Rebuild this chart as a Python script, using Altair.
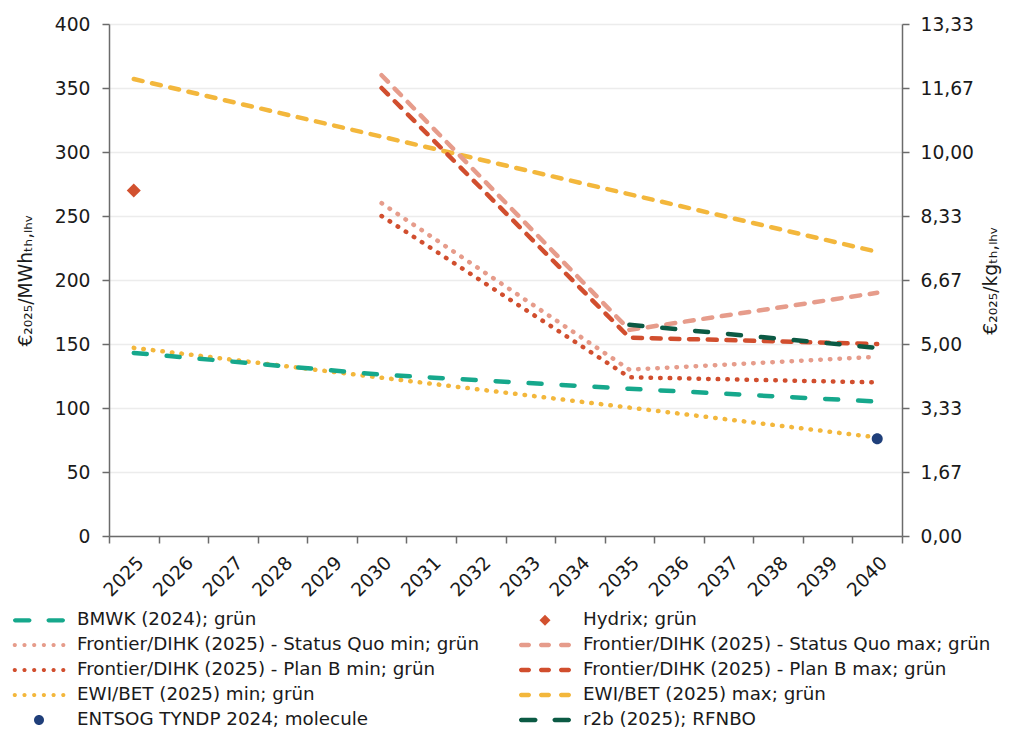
import altair as alt
import pandas as pd

# ---------------- data ----------------
years = [str(y) for y in range(2025, 2041)]
y_ticks = [0, 50, 100, 150, 200, 250, 300, 350, 400]

names = [
    "BMWK (2024); grün",
    "Hydrix; grün",
    "Frontier/DIHK (2025) - Status Quo min; grün",
    "Frontier/DIHK (2025) - Status Quo max; grün",
    "Frontier/DIHK (2025) - Plan B min; grün",
    "Frontier/DIHK (2025) - Plan B max; grün",
    "EWI/BET (2025) min; grün",
    "EWI/BET (2025) max; grün",
    "ENTSOG TYNDP 2024; molecule",
    "r2b (2025); RFNBO",
]
colors = ["#16a88c", "#d2512f", "#e69c8b", "#e69c8b", "#d14e2e", "#d14e2e",
          "#f3b73c", "#f3b73c", "#1f3f7a", "#0b5a44"]

bmwk_x = ["2025", "2030", "2035", "2040"]
bmwk_y = [143, 126, 115, 105]
fr_x = ["2030", "2035", "2040"]
sq_min_y = [260, 130, 140]
sq_max_y = [360, 161, 190]
pb_min_y = [250, 124, 120]
pb_max_y = [350, 155, 150]
ewi_x = ["2025", "2040"]
ewi_min_y = [147, 77]
ewi_max_y = [357, 222]
r2b_x = ["2035", "2040"]
r2b_y = [165, 147]
hydrix_x = ["2025"]
hydrix_y = [270]
entsog_x = ["2040"]
entsog_y = [76]

# ---------------- tables ----------------
line_series = [
    (names[2], fr_x, sq_min_y),
    (names[4], fr_x, pb_min_y),
    (names[6], ewi_x, ewi_min_y),
    (names[0], bmwk_x, bmwk_y),
    (names[7], ewi_x, ewi_max_y),
    (names[3], fr_x, sq_max_y),
    (names[5], fr_x, pb_max_y),
    (names[9], r2b_x, r2b_y),
]
rows = []
for n, xs, ys in line_series:
    for xv, yv in zip(xs, ys):
        rows.append({"series": n, "year": xv, "value": yv})
line_df = pd.DataFrame(rows)
hyd_df = pd.DataFrame({"series": names[1], "year": hydrix_x, "value": hydrix_y})
ent_df = pd.DataFrame({"series": names[8], "year": entsog_x, "value": entsog_y})

line_names = [n for n, _, _ in line_series]
line_colors = [colors[names.index(n)] for n in line_names]
LONG = [13, 20]
MED = [9, 9.7]
DOT = [0.5, 9.1]
dash_of = {names[0]: LONG, names[2]: DOT, names[3]: MED, names[4]: DOT, names[5]: MED,
           names[6]: DOT, names[7]: MED, names[9]: LONG}
line_dashes = [dash_of[n] for n in line_names]


# legend symbol paths (units of 10 px at symbolSize 400)
def dash_path(x0, x1, h=0.22):
    return (f"M{x0+h},{-h}H{x1-h}A{h},{h} 0 0 1 {x1-h},{h}"
            f"H{x0+h}A{h},{h} 0 0 1 {x0+h},{-h}Z")


def dot_path(cx, r=0.21):
    return f"M{cx-r},0A{r},{r} 0 1,0 {cx+r},0A{r},{r} 0 1,0 {cx-r},0Z"


long_sym = dash_path(-2.6, -0.75) + dash_path(0.75, 2.6)
med_sym = dash_path(-2.6, -1.4) + dash_path(-0.6, 0.6) + dash_path(1.4, 2.6)
dot_sym = "".join(dot_path(-2.42 + 0.97 * i) for i in range(6))
diamond_sym = "M0,-0.55L0.55,0L0,0.55L-0.55,0Z"
circle_sym = "M-0.5,0A0.5,0.5 0 1,0 0.5,0A0.5,0.5 0 1,0 -0.5,0Z"
shapes = [long_sym, diamond_sym, dot_sym, med_sym, dot_sym, med_sym, dot_sym, med_sym,
          circle_sym, long_sym]

# legend is filled column by column: left column first, then right column
legend_order = [0, 2, 4, 6, 8, 1, 3, 5, 7, 9]
leg_names = [names[i] for i in legend_order]
leg_colors = [colors[i] for i in legend_order]
leg_shapes = [shapes[i] for i in legend_order]

FONT = "DejaVu Sans"
FS = 18.7
LFS = 18.3
TXT = "#1a1a1a"
AX = "#6b6b6b"

xscale = alt.Scale(type="band", domain=years, paddingInner=0, paddingOuter=0)
yscale = alt.Scale(domain=[0, 400], nice=False, zero=True)

xaxis = alt.Axis(title=None, tickBand="extent", labelAngle=-45, labelFontSize=FS,
                 labelColor=TXT, labelFont=FONT, domainColor=AX, domainWidth=1.5,
                 tickColor=AX, tickWidth=1.5, tickSize=7, labelPadding=10, grid=False)
left_axis = alt.Axis(values=y_ticks, title="€₂₀₂₅/MWhₜₕ,ₗₕᵥ", titleFontSize=FS,
                     titleFontWeight="normal", titleColor=TXT, titleFont=FONT,
                     titlePadding=19, labelFontSize=FS, labelColor=TXT, labelFont=FONT,
                     domainColor=AX, domainWidth=1.5, tickColor=AX, tickWidth=1.5,
                     tickSize=7, labelPadding=12, grid=True, gridColor="#ececec",
                     gridWidth=1.5)
right_axis = alt.Axis(orient="right", values=y_ticks,
                      labelExpr="replace(format(datum.value / 30, '.2f'), '.', ',')",
                      title="€₂₀₂₅/kgₜₕ,ₗₕᵥ", titleAngle=270, titleBaseline="top",
                      titleFontSize=FS, titleFontWeight="normal", titleColor=TXT,
                      titleFont=FONT, titlePadding=8, labelFontSize=FS, labelColor=TXT,
                      labelFont=FONT, domainColor=AX, domainWidth=1.5, tickColor=AX,
                      tickWidth=1.5, tickSize=7, labelPadding=11, grid=False)

legend_def = alt.Legend(orient="none", legendX=-80, legendY=586, columns=2,
                        columnPadding=39, rowPadding=6, symbolSize=400,
                        symbolStrokeWidth=0, labelOffset=28, labelFontSize=LFS,
                        labelFont=FONT, labelColor=TXT, labelLimit=0, title=None,
                        padding=0, symbolOpacity=1)

lines = alt.Chart(line_df).mark_line(strokeWidth=4.5, strokeCap="round").encode(
    x=alt.X("year:O", scale=xscale, axis=xaxis),
    y=alt.Y("value:Q", scale=yscale, axis=left_axis),
    stroke=alt.Stroke("series:N", scale=alt.Scale(domain=line_names, range=line_colors),
                      legend=None),
    strokeDash=alt.StrokeDash("series:N",
                              scale=alt.Scale(domain=line_names, range=line_dashes),
                              legend=None),
)

pt_color = alt.Color("series:N", scale=alt.Scale(domain=leg_names, range=leg_colors),
                     legend=legend_def)
pt_shape = alt.Shape("series:N", scale=alt.Scale(domain=leg_names, range=leg_shapes),
                     legend=legend_def)

hydrix = alt.Chart(hyd_df).mark_point(filled=True, size=650, opacity=1).encode(
    x=alt.X("year:O", scale=xscale, axis=xaxis),
    y=alt.Y("value:Q", scale=yscale, axis=right_axis),
    color=pt_color,
    shape=pt_shape,
)
entsog = alt.Chart(ent_df).mark_point(filled=True, size=484, opacity=1).encode(
    x=alt.X("year:O", scale=xscale, axis=xaxis),
    y=alt.Y("value:Q", scale=yscale, axis=None),
    color=pt_color,
    shape=pt_shape,
)

chart = alt.layer(lines, hydrix, entsog).resolve_axis(y="independent").properties(
    width=793, height=512,
    padding={"left": 101, "top": 16, "right": 102, "bottom": 194},
    autosize=alt.AutoSizeParams(type="none"),
).configure(font=FONT).configure_view(strokeWidth=0)

chart.save("out.html", embed_options={"renderer": "svg", "actions": False})
